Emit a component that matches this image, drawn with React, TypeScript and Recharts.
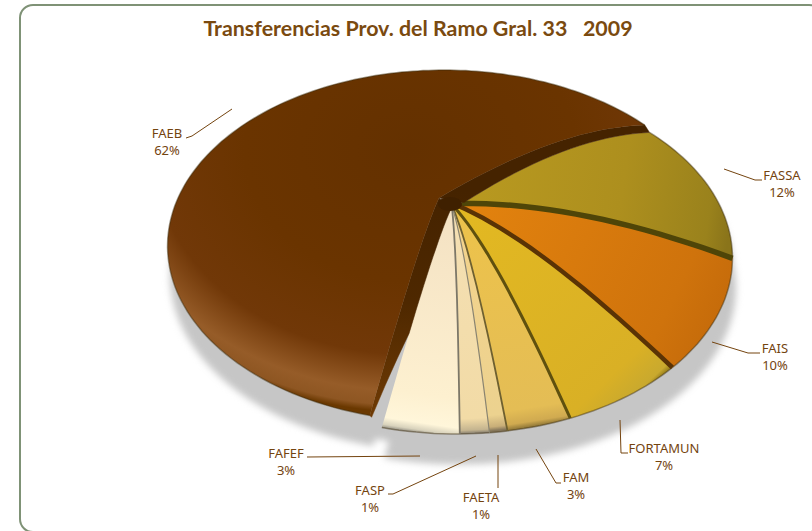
import React from "react";
import { PieChart, Pie } from "recharts";

const NAMES = ["FASSA", "FAIS", "FORTAMUN", "FAM", "FAETA", "FASP", "FAFEF", "FAEB"];
const VALUES = [12.4, 9.6, 6.6, 3.0, 0.8, 1.3, 3.4, 62.4];
const TITLE = "Transferencias Prov. del Ramo Gral. 33   2009";

const rows = NAMES.map((name, i) => ({ name, value: VALUES[i] }));

// ---- look of each slice (kept apart from the data) ----
type Look = { g: [number, number, number, number]; stops: [number, string][]; edge?: string; ew?: number };
const LOOK: Record<string, Look> = {
  FASSA: { g: [460, 150, 735, 190], stops: [[0, "#b99a20"], [0.6, "#ad8f1e"], [0.92, "#9a821c"], [1, "#8a741a"]] },
  FAIS: { g: [470, 210, 735, 340], stops: [[0, "#e2820e"], [0.75, "#cf730c"], [0.95, "#c46a0a"], [1, "#a85c0a"]], edge: "#4f4508", ew: 5.5 },
  FORTAMUN: { g: [470, 220, 640, 400], stops: [[0, "#e2b822"], [0.85, "#d9b025"], [0.97, "#c9a92e"], [1, "#806a14"]], edge: "#5a3305", ew: 4.5 },
  FAM: { g: [470, 240, 500, 432], stops: [[0, "#ecc24c"], [0.9, "#e4bd55"], [0.97, "#d0aa50"], [1, "#8c7436"]], edge: "#5f500f", ew: 3 },
  FAETA: { g: [460, 240, 480, 432], stops: [[0, "#f3d38c"], [0.92, "#ecd28f"], [0.98, "#c8ae78"], [1, "#85765a"]], edge: "#6e6030", ew: 1.8 },
  FASP: { g: [460, 240, 470, 434], stops: [[0, "#f4dfb2"], [0.92, "#f2dba6"], [0.98, "#c4b48f"], [1, "#7d766a"]], edge: "#8a8470", ew: 1.2 },
  FAFEF: { g: [430, 230, 400, 432], stops: [[0, "#f5e3c4"], [0.8, "#fdf0d0"], [0.94, "#fff6da"], [0.975, "#d8d2bc"], [1, "#77746c"]], edge: "#7c7768", ew: 1.8 },
  FAEB: { g: [0, 0, 0, 0], stops: [[0, "#643100"], [0.5, "#6a3400"], [0.78, "#713808"], [0.92, "#965c28"], [0.975, "#8e5622"], [1, "#6a3800"]] },
};
const EXPLODE: Record<string, [number, number]> = { FAEB: [-12, -12] };

const TILT = 0.29;
const SQUASH = 0.609;
const DOME = 14;
const SHADOW: [number, number] = [3, 30];
const REACH = 2.5;

function warp(a: number) {
  const d = ((a - 25 + 540) % 360) - 180;
  return a + 5.5 * Math.exp(-((d / 35) ** 2));
}
function pt(cx: number, cy: number, R: number, deg: number, r: number, ox = 0, oy = 0, own = false): [number, number] {
  const a = warp(deg);
  const t = (a * Math.PI) / 180;
  const u = r * Math.cos(t);
  const v = r * Math.sin(t);
  const w = 1 - TILT * v;
  const f = (1 - r) ** 2;
  const hx = own ? -5 * f : 8 * Math.cos(((a + 30) * Math.PI) / 180) * f;
  const hy = own ? 3 * f : -4.5 * Math.cos(((a + 20) * Math.PI) / 180) * f;
  return [cx + (R * u) / w + ox + hx, cy + (R * SQUASH * v) / w - DOME * 4 * r * (1 - r) + oy + hy];
}
const toD = (ps: [number, number][], close = true) =>
  "M" + ps.map((p) => p[0].toFixed(1) + " " + p[1].toFixed(1)).join("L") + (close ? "Z" : "");

function ray(cx: number, cy: number, R: number, deg: number, ox = 0, oy = 0, own = false) {
  const out: [number, number][] = [];
  for (let i = 0; i <= 20; i++) out.push(pt(cx, cy, R, deg, i / 20, ox, oy, own));
  return out;
}
function rim(cx: number, cy: number, R: number, a: number, b: number, ox = 0, oy = 0) {
  const out: [number, number][] = [];
  const n = Math.max(2, Math.ceil((b - a) / 1.5));
  for (let i = 0; i <= n; i++) out.push(pt(cx, cy, R, a + ((b - a) * i) / n, 1, ox, oy));
  return out;
}
function outline(cx: number, cy: number, R: number, a: number, b: number, ox = 0, oy = 0, own = false) {
  return [...ray(cx, cy, R, a, ox, oy, own), ...rim(cx, cy, R, a, b, ox, oy), ...ray(cx, cy, R, b, ox, oy, own).reverse()];
}

function ShadowSlice(p: any) {
  const a = -p.startAngle;
  const b = -p.endAngle;
  const [ox, oy] = EXPLODE[p.name ?? p.payload?.name] ?? [0, 0];
  return (
    <g>
      <path d={toD(outline(p.cx, p.cy, p.outerRadius, a, b, 0, 12))} fill="#c6c6c6" stroke="#c6c6c6" strokeWidth={1} />
      <path
        d={toD(outline(p.cx, p.cy, p.outerRadius, a, b, ox + SHADOW[0], oy + SHADOW[1]))}
        fill="#c6c6c6"
        stroke="#c6c6c6"
        strokeWidth={1}
      />
    </g>
  );
}

function TopSlice(p: any) {
  const name = p.name ?? p.payload?.name;
  const L = LOOK[name];
  const a = -p.startAngle;
  let b = -p.endAngle;
  const [ox, oy] = EXPLODE[name] ?? [0, 0];
  const own = !!(ox || oy);
  if (own) b += REACH;
  const { cx, cy, outerRadius: R } = p;
  const id = "grad-" + name;
  const walls: React.ReactNode[] = [];
  if (own) {
    const pairs: [number, number, number][] = [
      [a, a, 0.85],
      [b, -p.endAngle, 0],
    ];
    pairs.forEach(([deg, base, kMax], n) => {
      const outer = ray(cx, cy, R, deg, ox, oy, true);
      const inner = ray(cx, cy, R, base).map((q, i) => {
        const r = i / 20;
        const k = r < 0.7 ? 0 : ((r - 0.7) / 0.3) * kMax;
        return [q[0] + ox * k, q[1] + oy * k] as [number, number];
      });
      walls.push(<path key={n} d={toD([...outer, ...inner.reverse()])} fill="url(#wall-shade)" stroke="url(#wall-shade)" strokeWidth={0.5} />);
    });
  }
  return (
    <g>
      <defs>
        {own ? (
          <radialGradient id={id} gradientUnits="userSpaceOnUse" cx={0} cy={0} r={1} gradientTransform="translate(410 150) scale(330 262)">
            {L.stops.map(([o, c]) => (
              <stop key={o} offset={o} stopColor={c} />
            ))}
          </radialGradient>
        ) : (
          <linearGradient id={id} gradientUnits="userSpaceOnUse" x1={L.g[0]} y1={L.g[1]} x2={L.g[2]} y2={L.g[3]}>
            {L.stops.map(([o, c]) => (
              <stop key={o} offset={o} stopColor={c} />
            ))}
          </linearGradient>
        )}
        {own && (
          <linearGradient id="wall-shade" gradientUnits="userSpaceOnUse" x1={0} y1={190} x2={0} y2={415}>
            <stop offset={0} stopColor="#452300" />
            <stop offset={0.5} stopColor="#4e2800" />
            <stop offset={1} stopColor="#6e3a04" />
          </linearGradient>
        )}
      </defs>
      {walls}
      <path d={toD(outline(cx, cy, R, a, b, ox, oy, own))} fill={`url(#${id})`} />
      <path d={toD(rim(cx, cy, R, a, b, ox, oy), false)} fill="none" stroke="#3a2a0a" strokeOpacity={0.45} strokeWidth={1.5} />
      {L.edge && <path d={toD(ray(cx, cy, R, a), false)} fill="none" stroke={L.edge} strokeWidth={L.ew} />}
      {own && <ellipse cx={450} cy={204} rx={12} ry={7} fill="#3f2000" />}
    </g>
  );
}

// where each callout sits
const CALLOUT: Record<string, { x: number; y: number; line: [number, number][] }> = {
  FAEB: { x: 167, y: 138, line: [[232, 109], [192, 136], [186, 138]] },
  FASSA: { x: 782, y: 180, line: [[724, 169], [755, 180], [762, 180]] },
  FAIS: { x: 775, y: 353, line: [[712, 342], [748, 353], [760, 353]] },
  FORTAMUN: { x: 664, y: 453, line: [[620, 420], [621, 453], [628, 453]] },
  FAM: { x: 576, y: 482, line: [[536, 449], [556, 483], [561, 483]] },
  FAETA: { x: 481, y: 502, line: [[498, 455], [498, 488]] },
  FASP: { x: 370, y: 495, line: [[476, 456], [393, 494], [388, 494]] },
  FAFEF: { x: 286, y: 458, line: [[420, 456], [307, 457]] },
};
const INK = "#74440f";

function Callout(p: any) {
  const name = p.name ?? p.payload?.name;
  const c = CALLOUT[name];
  return (
    <g>
      <path d={toD(c.line, false)} fill="none" stroke={INK} strokeWidth={1} />
      <text x={c.x} y={c.y} textAnchor="middle" fontFamily="'Noto Sans', sans-serif" fontSize={13} fill={INK}>
        {name}
      </text>
      <text x={c.x} y={c.y + 16.5} textAnchor="middle" fontFamily="'Noto Sans', sans-serif" fontSize={13} fill={INK}>
        {Math.round(p.value ?? p.payload?.value) + "%"}
      </text>
    </g>
  );
}

export default function App() {
  const common = {
    data: rows,
    dataKey: "value",
    nameKey: "name",
    cx: 456,
    cy: 207,
    innerRadius: 0,
    outerRadius: 264.6,
    startAngle: 32.7,
    endAngle: -327.3,
    paddingAngle: 0,
    stroke: "none",
    isAnimationActive: false,
  };
  return (
    <div style={{ position: "absolute", left: 0, top: 0, width: 812, height: 531, overflow: "hidden", background: "#fff" }}>
      <style>{".pie-shadow{filter:blur(3.5px)}"}</style>
      <div
        style={{
          position: "absolute",
          left: 19,
          top: 4,
          width: 800,
          height: 525,
          border: "2px solid #7f9276",
          borderRadius: 14,
        }}
      />
      <div style={{ position: "absolute", left: 0, top: 0 }}>
        <PieChart width={812} height={531} margin={{ top: 0, right: 0, bottom: 0, left: 0 }}>
          <Pie {...common} className="pie-shadow" shape={ShadowSlice} label={false} labelLine={false} />
          <Pie {...common} shape={TopSlice} label={Callout} labelLine={false} />
          <text
            x={418}
            y={36}
            textAnchor="middle"
            fontFamily="Lato, sans-serif"
            fontWeight={700}
            fontSize={21.4}
            fill="#7a4a10"
            style={{ whiteSpace: "pre" }}
          >
            {TITLE}
          </text>
        </PieChart>
      </div>
    </div>
  );
}
